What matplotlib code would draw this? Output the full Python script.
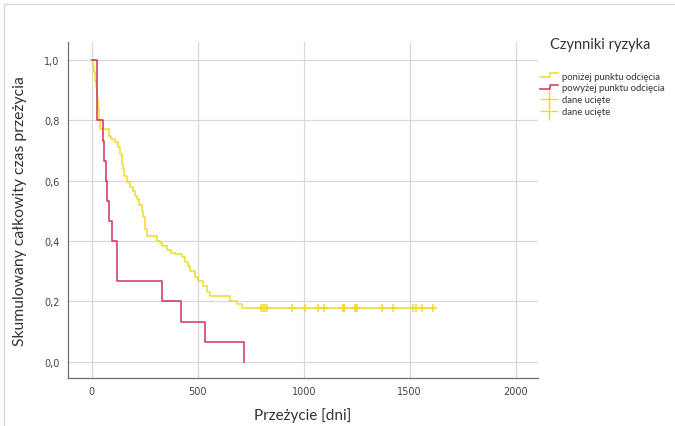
import matplotlib
matplotlib.use("Agg")
import matplotlib.pyplot as plt
from matplotlib.lines import Line2D
from matplotlib.legend_handler import HandlerBase

# ---- data ----
below_times = [0, 5, 10, 16, 20, 25, 30, 35, 40, 80, 92, 110, 126, 133, 141, 146, 152, 165,
               181, 196, 205, 212, 225, 236, 243, 251, 259, 307, 320, 330, 354, 375, 393,
               425, 440, 452, 464, 487, 503, 526, 542, 560, 650, 684, 707, 1608]
below_surv = [1.0, 0.98, 0.96, 0.93, 0.91, 0.87, 0.84, 0.80, 0.771, 0.75, 0.74, 0.73, 0.711,
              0.69, 0.655, 0.64, 0.617, 0.595, 0.578, 0.567, 0.55, 0.539, 0.52, 0.50, 0.479,
              0.44, 0.416, 0.401, 0.393, 0.385, 0.370, 0.362, 0.357, 0.346, 0.330, 0.316,
              0.302, 0.280, 0.266, 0.252, 0.230, 0.219, 0.200, 0.191, 0.177, 0.177]
below_censored = [800, 810, 818, 825, 946, 1006, 1069, 1096, 1184, 1188, 1192, 1242, 1246,
                  1250, 1368, 1420, 1514, 1530, 1557, 1608]

above_times = [0, 23, 26, 55, 60, 66, 71, 81, 97, 121, 330, 421, 534, 720]
above_surv = [1.0, 0.933, 0.8, 0.733, 0.667, 0.6, 0.533, 0.467, 0.4, 0.267, 0.2, 0.133,
              0.067, 0.0]

x_ticks = [0, 500, 1000, 1500, 2000]
y_ticks = [0.0, 0.2, 0.4, 0.6, 0.8, 1.0]
y_tick_labels = ["0,0", "0,2", "0,4", "0,6", "0,8", "1,0"]
legend_labels = ["poniżej punktu odcięcia", "powyżej punktu odcięcia", "dane ucięte", "dane ucięte"]
legend_title = "Czynniki ryzyka"

YELLOW = "#EEDC2A"
RED = "#D4325E"

W, H = 675, 427
fig = plt.figure(figsize=(W / 100, H / 100), dpi=100)
ax = fig.add_axes([68 / W, 1 - 379 / H, (538 - 68) / W, (379 - 43) / H])

ax.step(below_times, below_surv, where="post", color=YELLOW, lw=1.1, zorder=3)
ax.step(above_times, above_surv, where="post", color=RED, lw=1.1, zorder=4)
ax.plot(below_censored, [below_surv[-1]] * len(below_censored), linestyle="none",
        marker="+", color=YELLOW, markersize=5.5, mew=1.1, zorder=3)

ax.set_xlim(-112, 2105)
ax.set_ylim(-0.054, 1.06)
ax.set_xticks(x_ticks)
ax.set_xticklabels([str(t) for t in x_ticks])
ax.set_yticks(y_ticks)
ax.set_yticklabels(y_tick_labels)
ax.grid(True, color="#D8D8D8", lw=0.9, zorder=0)
ax.set_axisbelow(True)
ax.tick_params(length=0, labelsize=7, colors="#444444", pad=6)
for s in ["top", "right"]:
    ax.spines[s].set_visible(False)
for s in ["left", "bottom"]:
    ax.spines[s].set_color("#6E6E6E")
    ax.spines[s].set_linewidth(0.9)

ax.set_xlabel("Przeżycie [dni]", fontsize=11, family="Lato", color="#333333", labelpad=8)
ax.set_ylabel("Skumulowany całkowity czas przeżycia", fontsize=11.3, family="Lato",
              color="#333333", labelpad=12)


class StepHandler(HandlerBase):
    def create_artists(self, legend, orig_handle, xdescent, ydescent, width, height,
                       fontsize, trans):
        x0 = -xdescent
        y0 = -ydescent + height * 0.2
        y1 = -ydescent + height * 0.8
        xs = [x0, x0 + width * 0.6, x0 + width * 0.6, x0 + width]
        ys = [y0, y0, y1, y1]
        line = Line2D(xs, ys, color=orig_handle.get_color(), lw=1.1, transform=trans)
        return [line]


h1 = Line2D([], [], color=YELLOW)
h2 = Line2D([], [], color=RED)
h3 = Line2D([], [], linestyle="none", marker="+", color=YELLOW, markersize=13, mew=1.0)
h4 = Line2D([], [], linestyle="none", marker="+", color=YELLOW, markersize=13, mew=1.0)
leg = fig.legend([h1, h2, h3, h4], legend_labels, loc="upper left",
                 bbox_to_anchor=(533 / W, 1 - 66 / H), frameon=False,
                 prop={"family": "Lato", "size": 6.8},
                 handler_map={h1: StepHandler(), h2: StepHandler()},
                 handlelength=1.9, handletextpad=0.45, labelspacing=0.3,
                 borderpad=0.2)
for t in leg.get_texts():
    t.set_color("#333333")

fig.text(600 / W, 1 - 45 / H, legend_title, ha="center", va="center",
         fontsize=10.5, family="Lato", color="#333333")

# outer frame (top and left)
fig.add_artist(Line2D([4 / W, 1], [1 - 5 / H, 1 - 5 / H], color="#DADADA", lw=1,
                      transform=fig.transFigure))
fig.add_artist(Line2D([4 / W, 4 / W], [0, 1 - 5 / H], color="#DADADA", lw=1,
                      transform=fig.transFigure))

fig.savefig("out.png", dpi=100)
